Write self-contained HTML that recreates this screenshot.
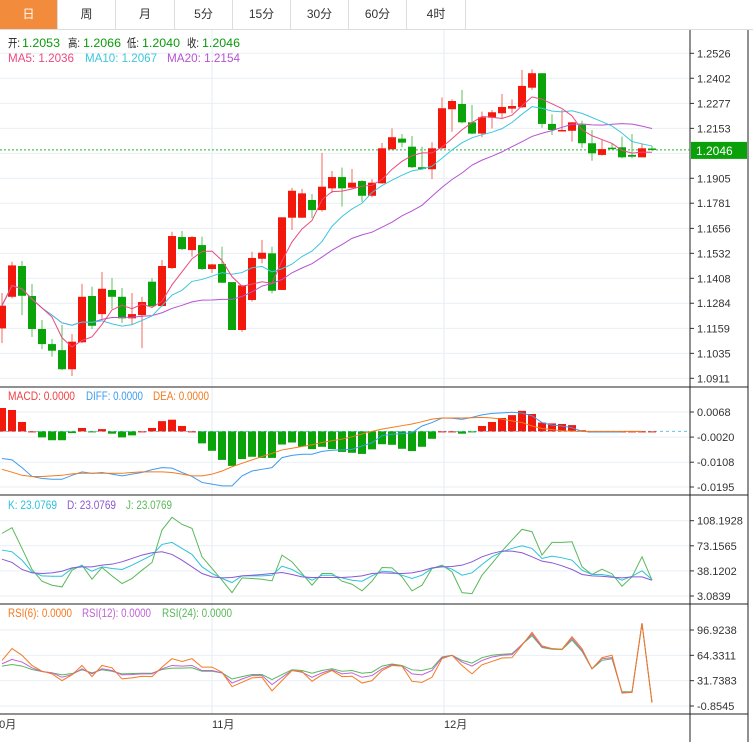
<!DOCTYPE html>
<html><head><meta charset="utf-8">
<style>
body{margin:0;background:#fff;font-family:"Liberation Sans","Noto Sans CJK SC",sans-serif;}
#wrap{position:relative;width:753px;height:742px;overflow:hidden;background:#fff;}
.tab{position:absolute;top:0;height:29px;line-height:29px;text-align:center;font-size:12px;color:#333;border-right:1px solid #ddd;box-sizing:border-box;}
.tab.on{background:#f28b3c;color:#fff;}
svg{position:absolute;left:0;top:0;}
</style></head><body>
<div id="wrap">
<div class="tab on" style="left:0;width:58px">日</div>
<div class="tab" style="left:58px;width:58px">周</div>
<div class="tab" style="left:116px;width:59px">月</div>
<div class="tab" style="left:175px;width:58px">5分</div>
<div class="tab" style="left:233px;width:58px">15分</div>
<div class="tab" style="left:291px;width:58px">30分</div>
<div class="tab" style="left:349px;width:58px">60分</div>
<div class="tab" style="left:407px;width:59px">4时</div>
<div style="position:absolute;left:0;top:29px;width:753px;height:1px;background:#ddd"></div>
<svg id="chart" width="753" height="742" style="top:0"></svg>
</div>
<script>
const opens=[1.1159,1.1316,1.1469,1.1320,1.1156,1.1081,1.1051,1.0956,1.1090,1.1320,1.1230,1.1350,1.1316,1.1209,1.1225,1.1391,1.1270,1.1459,1.1613,1.1548,1.1573,1.1454,1.1479,1.1389,1.1151,1.1300,1.1505,1.1532,1.1350,1.1709,1.1709,1.1797,1.1747,1.1855,1.1911,1.1858,1.1891,1.1818,1.1880,1.2049,1.2102,1.2062,1.1960,1.1950,1.2054,1.2248,1.2274,1.2183,1.2127,1.2206,1.2228,1.2251,1.2258,1.2355,1.2427,1.2175,1.2140,1.2141,1.2171,1.2079,1.2021,1.2057,1.2059,1.2021,1.2009,1.2053];
const highs=[1.1335,1.1490,1.1494,1.1380,1.1201,1.1106,1.1176,1.1131,1.1380,1.1366,1.1439,1.1409,1.1360,1.1335,1.1316,1.1409,1.1499,1.1639,1.1643,1.1618,1.1615,1.1479,1.1565,1.1389,1.1373,1.1540,1.1598,1.1565,1.1711,1.1857,1.1852,1.1827,1.2031,1.1941,1.1958,1.1951,1.1896,1.1901,1.2080,1.2153,1.2125,1.2115,1.2062,1.2084,1.2307,1.2297,1.2344,1.2269,1.2236,1.2244,1.2324,1.2297,1.2443,1.2446,1.2427,1.2223,1.2244,1.2183,1.2191,1.2145,1.2095,1.2079,1.2112,1.2125,1.2079,1.2066];
const lows=[1.1086,1.1308,1.1225,1.1116,1.1056,1.1018,1.0952,1.0922,1.1086,1.1156,1.1206,1.1255,1.1186,1.1176,1.1061,1.1260,1.1267,1.1454,1.1548,1.1515,1.1449,1.1434,1.1384,1.1151,1.1142,1.1292,1.1482,1.1333,1.1350,1.1648,1.1708,1.1708,1.1739,1.1832,1.1764,1.1850,1.1787,1.1810,1.1877,1.2049,1.2059,1.1956,1.1946,1.1901,1.2049,1.2136,1.2178,1.2124,1.2109,1.2153,1.2203,1.2228,1.2253,1.2344,1.2156,1.2120,1.2140,1.2087,1.2057,1.1992,1.2017,1.2049,1.2004,1.2004,1.2009,1.2040];
const closes=[1.1272,1.1472,1.1321,1.1156,1.1081,1.1048,1.0956,1.1093,1.1316,1.1172,1.1356,1.1316,1.1209,1.1230,1.1290,1.1270,1.1469,1.1618,1.1553,1.1613,1.1454,1.1477,1.1386,1.1151,1.1373,1.1509,1.1535,1.1346,1.1711,1.1843,1.1830,1.1747,1.1863,1.1911,1.1855,1.1883,1.1818,1.1883,1.2054,1.2109,1.2082,1.1960,1.1951,1.2054,1.2253,1.2289,1.2183,1.2127,1.2208,1.2233,1.2259,1.2264,1.2364,1.2427,1.2175,1.2145,1.2145,1.2183,1.2079,1.2029,1.2050,1.2050,1.2009,1.2012,1.2054,1.2046];
const macdHist=[0.0082,0.0075,0.0033,0,-0.0021,-0.0031,-0.0031,-0.0006,0.0012,-0.0002,0.0008,-0.0008,-0.0021,-0.0014,0,0.0012,0.0036,0.0041,0.0019,0,-0.0042,-0.0068,-0.0100,-0.0121,-0.0097,-0.0089,-0.0093,-0.0093,-0.0046,-0.0039,-0.0053,-0.0062,-0.0054,-0.0062,-0.0072,-0.0075,-0.0079,-0.0063,-0.0045,-0.0047,-0.0061,-0.0069,-0.0054,-0.0026,0,0,-0.0008,-0.0002,0.0019,0.0033,0.0047,0.0057,0.0072,0.0061,0.0031,0.0028,0.0026,0.0022,0.0004,0,0,0,0,0,0,0];
const diffVals=[-0.0095,-0.0100,-0.0127,-0.0158,-0.0165,-0.0168,-0.0168,-0.0154,-0.0142,-0.0147,-0.0144,-0.0150,-0.0156,-0.0150,-0.0144,-0.0134,-0.0127,-0.0129,-0.0144,-0.0158,-0.0179,-0.0185,-0.0191,-0.0191,-0.0156,-0.0139,-0.0133,-0.0127,-0.0092,-0.0084,-0.0080,-0.0080,-0.0070,-0.0066,-0.0065,-0.0063,-0.0051,-0.0040,-0.0015,-0.0010,-0.0008,-0.0005,0.0019,0.0031,0.0047,0.0046,0.0042,0.0049,0.0058,0.0063,0.0065,0.0067,0.0064,0.0055,0.0031,0.0022,0.0019,0.0013,0,-0.0002,-0.0002,-0.0002,-0.0002];
const deaVals=[-0.0133,-0.0143,-0.0154,-0.0158,-0.0158,-0.0156,-0.0154,-0.0149,-0.0147,-0.0147,-0.0147,-0.0147,-0.0147,-0.0144,-0.0142,-0.0142,-0.0142,-0.0144,-0.0150,-0.0156,-0.0156,-0.0150,-0.0139,-0.0124,-0.0112,-0.0100,-0.0088,-0.0077,-0.0065,-0.0059,-0.0053,-0.0047,-0.0039,-0.0033,-0.0027,-0.0019,-0.0009,0,0.0008,0.0014,0.0020,0.0026,0.0034,0.0043,0.0047,0.0047,0.0047,0.0048,0.0049,0.0047,0.0043,0.0037,0.0031,0.0019,0.0010,0.0006,0.0002,0.0001,0,0,0,0,0,0,0];
const kVals=[67.2,64.8,53.1,36.8,31.2,30.7,30.7,41.5,45.2,37.7,43.8,41.5,40.1,46.1,53.1,60.2,75.1,77.9,69.5,61.1,43.8,34.5,27.5,21.9,31.2,31.2,31.2,32.1,44.7,40.1,32.1,25.1,32.1,32.1,28.4,25.1,23.7,31.2,37.7,36.8,32.1,27.5,32.1,41.5,44.7,40.5,32.1,35.4,47.1,57.8,64.8,69.5,73.2,69.5,55.5,58.7,56.4,53.1,39.1,33.1,33.1,30.7,25.1,30.7,38.2,26.1];
const dVals=[54.5,49.9,40.1,35.4,34.5,35.4,37.7,42.4,43.8,43.8,46.1,47.5,50.8,55.5,60.2,63.4,64.8,61.1,53.1,43.8,34.5,29.8,28.4,28.9,31.2,32.1,33.1,34.5,35.9,33.1,29.8,28.9,28.9,28.9,28.9,29.8,31.2,34.5,35.4,34.9,34.5,35.4,38.2,42.4,43.8,44.3,46.1,50.8,57.8,62.5,65.8,65.8,63.4,57.8,51.7,49.4,45.2,40.1,33.1,31.2,30.7,29.3,28.4,29.8,29.8,25.1];
const jVals=[90.5,98.4,69.5,40.1,23.7,18.1,15.8,39.1,46.1,26.5,42.9,31.2,20.5,27.5,39.1,49.9,95.2,112.9,103.1,97.5,57.8,41.5,25.1,7.8,28.4,27.5,26.5,24.2,60.2,50.8,34.5,18.1,34.5,34.5,23.7,19.5,10.2,23.7,42.9,42.4,29.8,10.2,18.1,41.5,46.1,36.8,7.8,6.4,32.1,48.5,65.8,81.2,96.1,92.8,60.2,77.9,77.9,78.8,43.8,33.1,40.5,34.0,16.7,29.8,57.8,25.1];
const rsi6Vals=[57.8,73.0,64.4,51.3,43.9,40.5,31.8,39.2,51.3,37.0,51.3,48.3,34.0,35.3,37.4,37.0,49.2,60.0,56.5,60.0,49.2,49.2,42.6,24.0,29.6,35.3,36.1,18.7,31.8,44.8,43.5,30.9,39.2,44.8,37.0,37.4,28.7,31.8,44.8,51.3,50.5,30.9,29.6,36.1,60.0,64.4,51.3,40.5,52.2,56.5,60.9,61.3,77.4,93.9,76.5,73.0,72.2,88.3,73.0,47.0,61.3,64.4,15.7,16.6,105.6,3.5];
const rsi12Vals=[53.5,59.1,55.7,48.3,43.5,41.8,36.1,39.6,47.0,40.5,47.0,44.8,39.2,39.6,40.5,40.5,47.0,51.3,50.5,51.3,44.8,44.8,41.8,28.7,33.9,38.3,38.3,26.6,36.1,44.8,42.6,36.1,41.8,45.7,40.5,41.8,36.1,38.3,47.0,52.2,50.5,40.5,39.2,44.8,61.3,64.4,55.7,50.5,57.8,62.2,64.4,65.2,78.3,91.7,75.2,73.0,72.2,86.1,70.9,47.0,60.0,61.3,16.6,16.6,105.6,3.5];
const rsi24Vals=[50.5,52.6,50.5,46.1,43.5,41.8,39.2,40.9,45.7,41.8,45.7,43.9,40.5,40.9,41.3,41.3,46.1,47.8,47.8,48.3,43.9,43.9,41.8,33.9,37.0,39.6,39.6,33.1,39.6,45.7,44.8,41.3,44.8,47.0,43.9,44.8,41.3,42.6,50.5,53.1,51.3,45.7,44.8,47.8,62.2,64.4,57.8,54.4,61.3,64.4,65.7,66.5,78.3,89.6,74.4,72.2,71.7,83.9,69.6,47.0,57.8,60.0,17.4,17.4,105.6,3.5];
const priceTicks=[1.2526,1.2402,1.2277,1.2153,1.2029,1.1905,1.1781,1.1656,1.1532,1.1408,1.1284,1.1159,1.1035,1.0911];
const macdTicks=[0.0068,-0.0020,-0.0108,-0.0195];
const kdjTicks=[108.1928,73.1565,38.1202,3.0839];
const rsiTicks=[96.9238,64.3311,31.7383,-0.8545];
const monthLabels=["10月","11月","12月"];
const monthIndex=[-0.9,21,44.2];
const lastPrice=1.2046;

const NS="http://www.w3.org/2000/svg";
const svg=document.getElementById('chart');
function mk(tag,attrs,parent){const e=document.createElementNS(NS,tag);for(const k in attrs)e.setAttribute(k,attrs[k]);(parent||svg).appendChild(e);return e;}
const X=i=>2+10*i;
const AXX=690;
function lin(v0,y0,v1,y1){return v=>y0+(v-v0)*(y1-y0)/(v1-v0);}
const yP=lin(1.2526,53.3,1.0911,378.3);
const yM=lin(0.0068,412,-0.0195,487);
const yK=lin(108.1928,520.7,3.0839,596);
const yR=lin(96.9238,630,-0.8545,706);

function grid(ticks,yf,name,fmt){
  ticks.forEach(t=>{const y=yf(t);
    const g=mk('line',{x1:0,x2:AXX,y1:y,y2:y,stroke:'#e9eff5','stroke-width':1});
    
    const tk=mk('line',{x1:AXX,x2:AXX+4,y1:y,y2:y,stroke:'#333'});
    
    const tx=mk('text',{x:AXX+7,y:y+4,'font-size':11,fill:'#333'});tx.textContent=fmt(t);
    
  });
}
grid(priceTicks.filter(t=>t!==1.2029),yP,'price-axis',t=>t.toFixed(4));
mk('line',{x1:0,x2:AXX,y1:yP(1.2029),y2:yP(1.2029),stroke:'#e9eff5'});
grid(macdTicks,yM,'macd-axis',t=>t.toFixed(4));
grid(kdjTicks,yK,'kdj-axis',t=>t.toFixed(4));
grid(rsiTicks,yR,'rsi-axis',t=>t.toFixed(4));
monthIndex.forEach((mi,k)=>{const x=X(mi);
  if(k>0){const l=mk('line',{x1:x,x2:x,y1:30,y2:714,stroke:'#e6eef6'});
  }
  const t=mk('text',{x:x,y:728,'font-size':11,fill:'#333'});t.textContent=monthLabels[k];
  
});
[[0,387,748,387],[0,495,748,495],[0,604,748,604],[0,714,748,714],[AXX,30,AXX,742],[748,30,748,742]].forEach(a=>{
  const l=mk('line',{x1:a[0],y1:a[1],x2:a[2],y2:a[3],stroke:'#222','stroke-width':1});
  
});
const lp=mk('line',{x1:0,x2:AXX,y1:yP(lastPrice),y2:yP(lastPrice),stroke:'#2db02d','stroke-dasharray':'2,2'});

const lb=mk('rect',{x:AXX+1,y:yP(lastPrice)-8,width:56,height:17,fill:'#0aa00a'});

const lt=mk('text',{x:AXX+6,y:yP(lastPrice)+5,'font-size':12,fill:'#fff'});lt.textContent=lastPrice.toFixed(4);


closes.forEach((c,i)=>{const o=opens[i],up=c>=o,x=X(i);
  const col=up?'#f2180c':'#0aa30a',wc=up?'#f36a60':'#5cc25c';
  const w=mk('line',{x1:x,x2:x,y1:yP(highs[i]),y2:yP(lows[i]),stroke:wc});
  
  const t=Math.min(yP(o),yP(c)),h=Math.max(1.5,Math.abs(yP(o)-yP(c)));
  const r=mk('rect',{x:x-4,y:t,width:8,height:h,fill:col});
  
});
function ma(n){return closes.map((c,i)=>{const s=closes.slice(Math.max(0,i-n+1),i+1);return s.reduce((a,b)=>a+b,0)/s.length;});}
function poly(vals,yf,color,name){
  const pts=vals.map((v,i)=>X(i)+','+yf(v)).join(' ');
  const p=mk('polyline',{points:pts,fill:'none',stroke:color,'stroke-width':1});
  
}
poly(ma(20),yP,'#b653d2','ma20-line');
poly(ma(10),yP,'#3ec6dc','ma10-line');
poly(ma(5),yP,'#ec4a7e','ma5-line');

const z=yM(0);
const zl=mk('line',{x1:0,x2:AXX,y1:z,y2:z,stroke:'#5fc8e8','stroke-dasharray':'3,3'});

macdHist.forEach((h,i)=>{const y=yM(h);
  const r=mk('rect',{x:X(i)-4,y:Math.min(y,z),width:8,height:Math.max(1,Math.abs(y-z)),fill:h>=0?'#f2180c':'#0aa30a'});
  
});
poly(diffVals,yM,'#3d9cf0','diff-line');
poly(deaVals,yM,'#f47a1e','dea-line');

poly(jVals,yK,'#5ab85a','kdj-j-line');
poly(kVals,yK,'#2cc2da','kdj-k-line');
poly(dVals,yK,'#8a58d2','kdj-d-line');

poly(rsi24Vals,yR,'#5ab85a','rsi24-line');
poly(rsi12Vals,yR,'#c062d4','rsi12-line');
poly(rsi6Vals,yR,'#f47a1e','rsi6-line');

function legend(y,items,name){items.forEach(it=>{
  const t=mk('text',{x:it[2],y:y,'font-size':11.5,fill:it[1],textLength:it[3],lengthAdjust:'spacingAndGlyphs'});t.textContent=it[0];
  });}
legend(47,[['开:','#222',8,12],['1.2053','#0a9a0a',22,38],['高:','#222',68,12],['1.2066','#0a9a0a',83,38],['低:','#222',127,12],['1.2040','#0a9a0a',142,38],['收:','#222',187,12],['1.2046','#0a9a0a',202,38]],'ohlc-header-item');
legend(62,[['MA5: 1.2036','#ec4a7e',8,66],['MA10: 1.2067','#3ec6dc',85,72],['MA20: 1.2154','#b653d2',167,73]],'ma-legend-entry');
legend(400,[['MACD: 0.0000','#f04040',8,67],['DIFF: 0.0000','#3d9cf0',86,57],['DEA: 0.0000','#f47a1e',153,56]],'macd-legend-entry');
legend(509,[['K: 23.0769','#2cc2da',8,49],['D: 23.0769','#8a58d2',67,49],['J: 23.0769','#5ab85a',126,46]],'kdj-legend-entry');
legend(617,[['RSI(6): 0.0000','#f47a1e',8,64],['RSI(12): 0.0000','#c062d4',82,69],['RSI(24): 0.0000','#5ab85a',162,70]],'rsi-legend-entry');
</script>
</body></html>
